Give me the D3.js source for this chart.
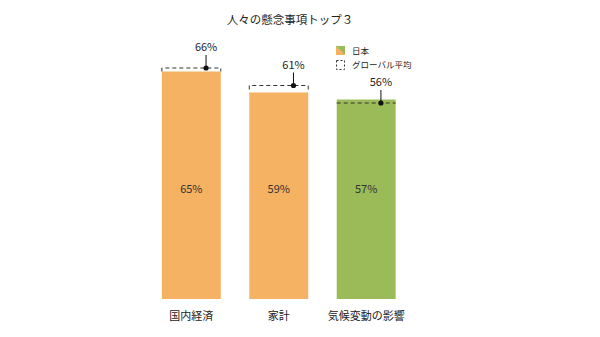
<!DOCTYPE html>
<html>
<head>
<meta charset="utf-8">
<script src="https://cdn.jsdelivr.net/npm/d3@7"></script>
<style>
  body { margin: 0; background: #fff; }
  svg { font-family: "Noto Sans CJK JP", "Noto Sans", sans-serif; }
</style>
</head>
<body>
<svg width="600" height="337"></svg>
<script>
var categories = ["国内経済", "家計", "気候変動の影響"];
var japan = [65, 59, 57];
var globalAvg = [66, 61, 56];
var barColors = ["#F5B262", "#F5B262", "#9BBB59"];
var title = "人々の懸念事項トップ３";
var legendLabels = ["日本", "グローバル平均"];

var svg = d3.select("svg"),
    width = +svg.attr("width"),
    height = +svg.attr("height");

var x = d3.scaleBand()
    .domain(categories)
    .range([140, 417.5])
    .paddingInner(0.326)
    .paddingOuter(0.25);

var y = d3.scaleLinear()
    .domain([0, 66])
    .range([299, 68]);

// title
svg.append("text")
    .attr("x", 290)
    .attr("y", 24)
    .attr("text-anchor", "middle")
    .attr("font-size", 11.5)
    .attr("fill", "#222")
    .text(title);

// japan bars
svg.append("g").selectAll("rect")
    .data(japan)
    .enter().append("rect")
      .attr("x", (d, i) => x(categories[i]))
      .attr("y", d => y(d))
      .attr("width", x.bandwidth())
      .attr("height", d => y(0) - y(d))
      .attr("fill", (d, i) => barColors[i]);

// global average dashed outline (top + short sides)
var bw = x.bandwidth();
svg.append("g").selectAll("path")
    .data(globalAvg)
    .enter().append("path")
      .attr("d", (d, i) => {
        var x0 = x(categories[i]), yy = y(d);
        var side = Math.min(4, Math.max(0, y(japan[i]) - yy));
        return "M" + x0 + "," + (yy + side) + "V" + yy + "H" + (x0 + bw) + "V" + (yy + side);
      })
      .attr("fill", "none")
      .attr("stroke", "#333")
      .attr("stroke-width", 1)
      .attr("stroke-dasharray", "4,3");

// marker dots, leader lines, labels
var marks = svg.append("g").selectAll("g")
    .data(globalAvg)
    .enter().append("g")
      .attr("transform", (d, i) => "translate(" + (x(categories[i]) + bw * 0.75) + "," + y(d) + ")");

marks.append("line")
    .attr("x1", 0).attr("x2", 0)
    .attr("y1", 0).attr("y2", -13)
    .attr("stroke", "#111")
    .attr("stroke-width", 1);

marks.append("circle")
    .attr("r", 2.6)
    .attr("fill", "#111");

marks.append("text")
    .attr("y", -17)
    .attr("text-anchor", "middle")
    .attr("font-size", 11)
    .attr("fill", "#222")
    .text(d => d + "%");

// value labels inside bars
svg.append("g").selectAll("text")
    .data(japan)
    .enter().append("text")
      .attr("x", (d, i) => x(categories[i]) + bw / 2)
      .attr("y", 193)
      .attr("text-anchor", "middle")
      .attr("font-size", 11)
      .attr("fill", "#333")
      .text(d => d + "%");

// category labels
svg.append("g").selectAll("text")
    .data(categories)
    .enter().append("text")
      .attr("x", d => x(d) + bw / 2)
      .attr("y", 320)
      .attr("text-anchor", "middle")
      .attr("font-size", 11)
      .attr("fill", "#222")
      .text(d => d);

// legend
var defs = svg.append("defs");
var grad = defs.append("linearGradient")
    .attr("id", "jp")
    .attr("x1", "0").attr("y1", "1")
    .attr("x2", "1").attr("y2", "0");
grad.append("stop").attr("offset", "0.5").attr("stop-color", "#F5B262");
grad.append("stop").attr("offset", "0.5").attr("stop-color", "#9BBB59");

var legend = svg.append("g").attr("transform", "translate(336,46)");
legend.append("rect")
    .attr("width", 9).attr("height", 9)
    .attr("fill", "url(#jp)");
legend.append("rect")
    .attr("x", 0.5).attr("y", 14.5)
    .attr("width", 8).attr("height", 9)
    .attr("fill", "none")
    .attr("stroke", "#333")
    .attr("stroke-dasharray", "2,2");
legend.selectAll("text.lg")
    .data(legendLabels)
    .enter().append("text")
      .attr("class", "lg")
      .attr("x", 16)
      .attr("y", (d, i) => 8 + i * 14)
      .attr("font-size", 8.5)
      .attr("fill", "#222")
      .text(d => d);
</script>
</body>
</html>
